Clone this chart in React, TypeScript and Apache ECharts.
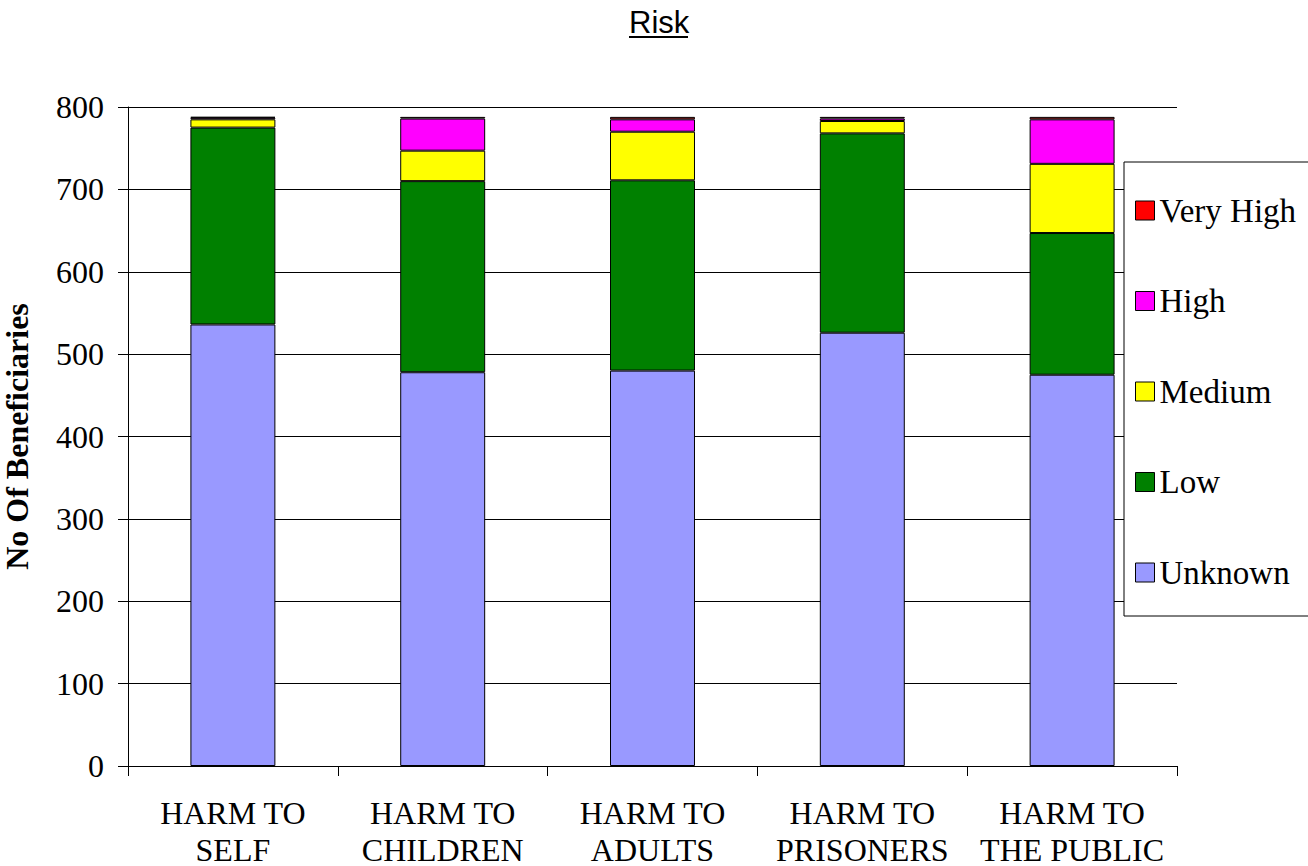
import React, { useEffect, useRef } from "react";
import * as echarts from "echarts";

const categories = [
  "HARM TO\nSELF",
  "HARM TO\nCHILDREN",
  "HARM TO\nADULTS",
  "HARM TO\nPRISONERS",
  "HARM TO\nTHE PUBLIC",
];
const unknownVals = [536, 478, 480, 526, 475];
const lowVals = [239, 232, 231, 242, 172];
const mediumVals = [10, 37, 59, 15, 84];
const highVals = [2, 39, 15, 3, 54];
const veryHighVals = [1, 2, 3, 2, 3];
const legendOrder = ["Very High", "High", "Medium", "Low", "Unknown"];

const SERIF = "'Liberation Serif', 'Times New Roman', serif";
const SANS = "'Liberation Sans', Arial, sans-serif";

export default function App() {
  const ref = useRef<HTMLDivElement>(null);
  useEffect(() => {
    if (!ref.current) return;
    const chart = echarts.init(ref.current, null, { renderer: "svg" });
    const mk = (name: string, data: number[], color: string) => ({
      name,
      type: "bar",
      stack: "risk",
      data,
      barWidth: "40.5%",
      itemStyle: { color, borderColor: "#000", borderWidth: 1 },
    });
    chart.setOption({
      animation: false,
      backgroundColor: "#fff",
      title: {
        text: "Risk",
        left: 629,
        top: 7,
        padding: 0,
        textStyle: { fontFamily: SANS, fontSize: 31, fontWeight: "normal", color: "#000" },
      },
      graphic: [
        {
          type: "line",
          shape: { x1: 629, y1: 37, x2: 688, y2: 37 },
          style: { stroke: "#000", lineWidth: 2 },
        },
      ],
      grid: {
        left: 128,
        right: 131,
        top: 107,
        bottom: 100,
        containLabel: false,
        outerBoundsMode: "none",
      },
      legend: {
        orient: "vertical",
        left: 1124,
        top: 162,
        data: legendOrder,
        icon: "rect",
        itemWidth: 19,
        itemHeight: 19,
        itemGap: 57.5,
        padding: [32, 24, 27, 11],
        backgroundColor: "#fff",
        borderColor: "#000",
        borderWidth: 1,
        borderRadius: 0,
        itemStyle: { borderColor: "#000", borderWidth: 1 },
        textStyle: { fontFamily: SERIF, fontSize: 33, lineHeight: 33, color: "#000" },
      },
      xAxis: {
        type: "category",
        data: categories,
        axisLine: { lineStyle: { color: "#000", width: 1 } },
        axisTick: { show: true, inside: false, length: 10, lineStyle: { color: "#000" } },
        axisLabel: {
          interval: 0,
          margin: 28,
          fontFamily: SERIF,
          fontSize: 32,
          lineHeight: 37,
          color: "#000",
        },
      },
      yAxis: {
        type: "value",
        min: 0,
        max: 800,
        interval: 100,
        name: "No Of Beneficiaries",
        nameLocation: "middle",
        nameGap: 95,
        nameTextStyle: { fontFamily: SERIF, fontSize: 32, fontWeight: "bold", color: "#000" },
        axisLine: { show: true, lineStyle: { color: "#000", width: 1 } },
        axisTick: { show: true, inside: false, length: 10, lineStyle: { color: "#000" } },
        splitLine: { show: true, lineStyle: { color: "#000", width: 1 } },
        axisLabel: { margin: 24, fontFamily: SERIF, fontSize: 32, color: "#000" },
      },
      series: [
        mk("Unknown", unknownVals, "#9999FF"),
        mk("Low", lowVals, "#008000"),
        mk("Medium", mediumVals, "#FFFF00"),
        mk("High", highVals, "#FF00FF"),
        mk("Very High", veryHighVals, "#FF0000"),
      ],
    });
    return () => chart.dispose();
  }, []);
  return (
    <div
      ref={ref}
      style={{ position: "fixed", left: 0, top: 0, width: 1308, height: 866 }}
    />
  );
}
